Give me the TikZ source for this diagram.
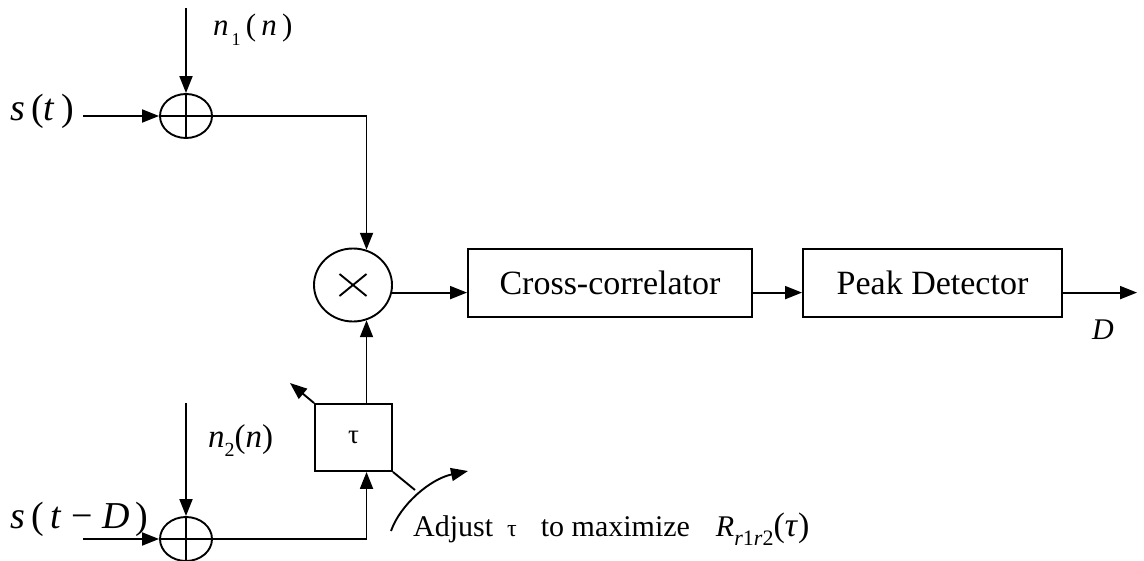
\documentclass[tikz,border=0pt]{standalone}
\usepackage{fontspec}
\setmainfont{Liberation Serif}
\usetikzlibrary{arrows.meta,shapes.geometric}
\tikzset{
  ln/.style={line width=1.9pt},
  arr/.style={ln,-{Triangle[length=17pt,width=13pt]}},
  sumnode/.style={draw,ellipse,line width=1.9pt,inner sep=0pt,minimum width=52pt,minimum height=44pt},
  mulnode/.style={draw,ellipse,line width=1.9pt,inner sep=0pt,minimum width=78pt,minimum height=73pt},
  blk/.style={draw,rectangle,line width=1.9pt,inner sep=0pt,font=\fontsize{34}{40}\selectfont},
  lbl/.style={inner sep=0pt,anchor=base west}
}
\newcommand{\fs}[1]{\fontsize{#1}{#1}\selectfont}
\begin{document}
\begin{tikzpicture}[x=1pt,y=-1pt]
\useasboundingbox (0,0) rectangle (1144,560);
% adders
\node[sumnode] (A) at (186,116) {};
\draw[ln] (A.north) -- (A.south) (A.west) -- (A.east);
\node[sumnode] (B) at (186,539) {};
\draw[ln] (B.north) -- (B.south) (B.west) -- (B.east);
% multiplier
\node[mulnode] (M) at (353,285) {};
\draw[ln] (339.5,274) -- (366.5,296) (339.5,296) -- (366.5,274);
% blocks
\node[blk,minimum width=284pt,minimum height=68pt] (cc) at (610,283) {Cross-correlator};
\node[blk,minimum width=259pt,minimum height=68pt] (pd) at (932.5,283) {Peak Detector};
\node[blk,minimum width=77pt,minimum height=67pt,font=\fs{27}] (tau) at (353.5,437.5) {τ};
% labels
\node[lbl,font=\fs{38}] (st) at (10,120) {\textit{s}\,(\textit{t}\,)};
\node[lbl,font=\fs{38}] (std) at (10,528) {\textit{s}\,(\,\textit{t} − \textit{D}\,)};
\node[lbl,font=\fs{31}] (n1) at (213,35) {\textit{n}\raisebox{-0.33em}{\fs{18}\,1}\,(\,\textit{n}\,)};
\node[lbl,font=\fs{33}] (n2) at (208,447) {\textit{n}\raisebox{-0.3em}{\fs{20}2}(\textit{n})};
\node[inner sep=0pt,font=\fs{30}] (D) at (1103,330) {\textit{D}};
\node[lbl,font=\fs{30}] (adj) at (413,536) {Adjust\hspace{14pt}{\fs{24}τ}\hspace{24pt}to maximize\hspace{26pt}\textit{R}\raisebox{-0.3em}{\fs{22}\textit{r}1\textit{r}2}{\fs{34}(\textit{τ})}};
% coordinates
\coordinate (sin) at (83,116);
\coordinate (n1in) at (186,8);
\coordinate (sdin) at (83,539);
\coordinate (n2in) at (186,403);
\coordinate (out) at (1137,293);
\coordinate (tl) at (290,383);
\coordinate (br) at (415,490);
\coordinate (arcS) at (391,531);
\coordinate (arcE) at (468,471);
\coordinate (tauin) at (tau.south -| M.-69.3);
\coordinate (tauout) at (tau.north -| M.-69.3);
% connectors
\draw[arr] (sin) -- (A.west);
\draw[arr] (n1in) -- (A.north);
\draw[arr] (sdin) -- (B.west);
\draw[arr] (n2in) -- (B.north);
\draw[arr] (A.east) -| (M.69.3);
\draw[arr] (B.east) -| (tauin);
\draw[arr] (tauout) -- (M.-69.3);
\draw[arr] (M.-11.9) -- (M.-11.9 -| cc.west);
\draw[arr] (M.-11.9 -| cc.east) -- (M.-11.9 -| pd.west);
\draw[arr] (M.-11.9 -| pd.east) -- (M.-11.9 -| out);
\draw[arr] (tau.north west) -- (tl);
\draw[ln] (tau.south east) -- (br);
\draw[arr] (arcS) .. controls (400,505) and (430,479) .. (arcE);
\end{tikzpicture}
\end{document}
